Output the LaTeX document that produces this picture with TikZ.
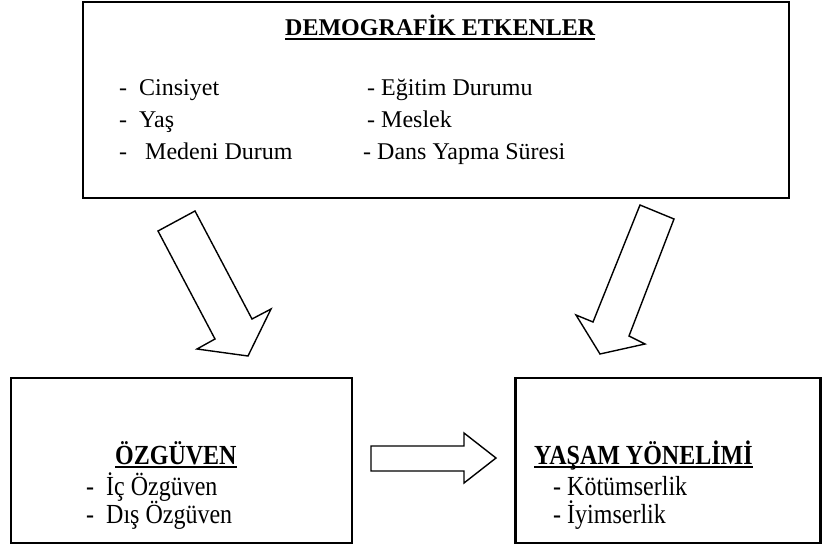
\documentclass[tikz,border=0pt]{standalone}
\usepackage{fontspec}
\setmainfont{Liberation Serif}
\usepackage{graphicx}
\usepackage{tikz}

\newcommand{\uzun}[1]{\scalebox{1}[1.15]{#1}}

\tikzset{
  kutu/.style={draw, line width=2.2pt, inner sep=0pt},
  yazi/.style={anchor=base west, inner sep=0pt, font=\fontsize{24}{28}\selectfont},
  baslik/.style={yazi, font=\fontsize{24}{28}\selectfont\bfseries},
  altcizgi/.style={line width=2pt},
  okblok/.style={draw, line width=1.4pt, line join=miter},
}

\begin{document}
\begin{tikzpicture}[x=1pt,y=-1pt]
        \useasboundingbox (0,0) rectangle (823,546);

        % Kutular
        \node[kutu, minimum width=706pt, minimum height=196pt] (demog) at (436,100) {};
        \node[kutu, minimum width=341pt, minimum height=165pt] (ozguven) at (181.5,460.5) {};
        \node[kutu, minimum width=305pt, minimum height=165pt] (yasam) at (668,460.5) {};

        % Demografik etkenler
        \node[baslik] (demogbaslik) at (285,35) {DEMOGRAFİK ETKENLER};
        \draw[altcizgi] ([yshift=-4pt]demogbaslik.base west) -- ([yshift=-4pt]demogbaslik.base east);
        \node[yazi] (cins) at (119,95) {-\ \ Cinsiyet};
        \node[yazi] (yas) at (119,127) {-\ \ Yaş};
        \node[yazi] (medeni) at (119,159) {-\ \ \ Medeni Durum};
        \node[yazi] (egitim) at (367,95) {- Eğitim Durumu};
        \node[yazi] (meslek) at (367,127) {- Meslek};
        \node[yazi] (dans) at (363,159) {- Dans Yapma Süresi};

        % Özgüven
        \node[baslik] (ozbaslik) at (115,464) {\uzun{ÖZGÜVEN}};
        \draw[altcizgi] ([yshift=-3pt]ozbaslik.base west) -- ([yshift=-3pt]ozbaslik.base east);
        \node[yazi] (ic) at (86,495) {\uzun{-\ \ İç Özgüven}};
        \node[yazi] (dis) at (86,523) {\uzun{-\ \ Dış Özgüven}};

        % Yaşam yönelimi
        \node[baslik] (yasambaslik) at (534,464) {\uzun{YAŞAM YÖNELİMİ}};
        \draw[altcizgi] ([yshift=-3pt]yasambaslik.base west) -- ([yshift=-3pt]yasambaslik.base east);
        \node[yazi] (kotu) at (553,495) {\uzun{- Kötümserlik}};
        \node[yazi] (iyi) at (553,523) {\uzun{- İyimserlik}};

        % Oklar
        \draw[okblok] (158,231) -- (195,211) -- (252,319) -- (271,309) -- (248,356)
                -- (197,349) -- (215,339) -- cycle; % sol ok
        \draw[okblok] (640,205) -- (674,219) -- (629,336) -- (645,344) -- (600,354)
                -- (576,315) -- (593,322) -- cycle; % sag ok
        \draw[okblok] (371,446) -- (464,446) -- (464,433) -- (496,458) -- (464,483)
                -- (464,471) -- (371,471) -- cycle; % yatay ok
\end{tikzpicture}
\end{document}
